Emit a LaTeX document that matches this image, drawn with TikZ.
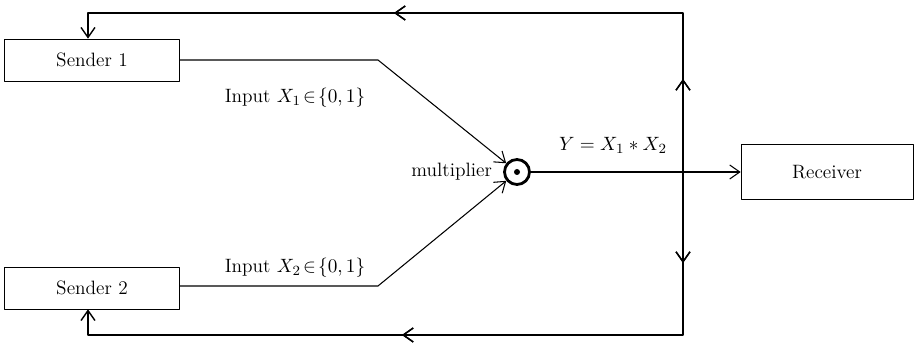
\documentclass[tikz,border=0pt]{standalone}
\usepackage{amsmath,amssymb}
\usepackage{tikz}
\usetikzlibrary{arrows.meta,calc,positioning,decorations.markings}

\tikzset{
 unitbox/.style={draw,thin,minimum width=3.5cm,minimum height=0.84cm,font=\fontsize{11}{13}\selectfont},
 wire/.style={semithick},
 tip/.style={-{Straight Barb[length=2mm,width=2.8mm]}},
 midtip/.style={postaction={decorate},decoration={markings,
   mark=at position #1 with {\arrow{Straight Barb[length=2mm,width=2.8mm]}}}},
 lbl/.style={font=\fontsize{11}{13}\selectfont}
}

\begin{document}
\begin{tikzpicture}[line cap=round,line join=round]
 \useasboundingbox (0,0) rectangle (18.28,6.94);
 \node[unitbox] (send1) at (1.84,5.74) {Sender 1};
 \node[unitbox] (send2) at (1.84,1.18) {Sender 2};
 \node[unitbox,minimum width=3.44cm,minimum height=1.1cm] (recv) at (16.54,3.5) {Receiver};
 \node[circle,draw,line width=1.6pt,minimum size=0.5cm,inner sep=0pt] (mult) at (10.34,3.5) {};
 \fill (mult.center) circle (0.06);
 % bends and feedback corners
 \coordinate (bend1) at (7.56,5.74);
 \coordinate (bend2) at (7.56,1.22);
 \coordinate (tap) at (13.66,3.5);
 \coordinate (topR) at (13.66,6.68);
 \coordinate (topL) at (1.76,6.68);
 \coordinate (botR) at (13.66,0.24);
 \coordinate (botL) at (1.76,0.24);
 % inputs
 \draw[wire,tip] (send1.east) -- (bend1) -- (mult);
 \draw[wire,tip] (send2.east |- bend2) -- (bend2) -- (mult);
 \draw[wire,tip] (mult) -- (recv);
 % feedback
 \draw[thick,tip,midtip=1.86cm,midtip=8.96cm] (tap) -- (topR) -- (topL) -- (send1.north -| topL);
 \draw[thick,tip,midtip=1.82cm,midtip=8.88cm] (tap) -- (botR) -- (botL) -- (send2.south -| botL);
 % labels
 \node[lbl] (in1) at (5.9,4.98) {Input $X_1\!\in\!\{0,1\}$};
 \node[lbl] (in2) at (5.9,1.58) {Input $X_2\!\in\!\{0,1\}$};
 \node[lbl,left=0.1cm of mult] (multlbl) {multiplier};
 \node[lbl] (outlbl) at (12.26,4.04) {$Y = X_1 * X_2$};
\end{tikzpicture}
\end{document}
